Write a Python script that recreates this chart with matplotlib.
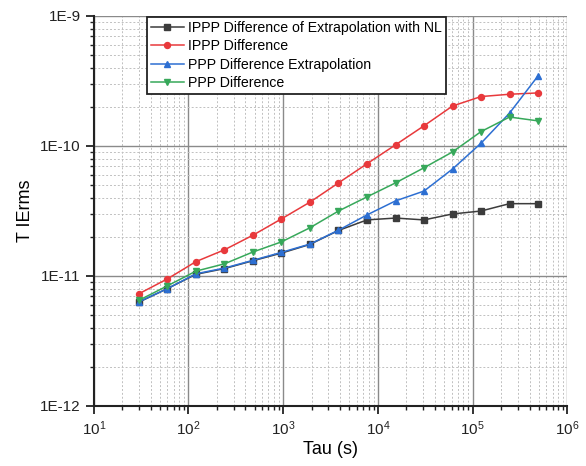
import matplotlib
matplotlib.use("Agg")
import matplotlib.pyplot as plt
from matplotlib.ticker import LogLocator, FixedLocator, FixedFormatter, NullFormatter

plt.rcParams['font.family'] = ['Liberation Sans', 'DejaVu Sans']

tau = [30, 60, 120, 240, 480, 960, 1920, 3840, 7680, 15360, 30720, 61440, 122880, 245760, 491520]

ippp_extrap_nl = [6.3e-12, 8.0e-12, 1.03e-11, 1.14e-11, 1.31e-11, 1.5e-11, 1.75e-11, 2.24e-11,
                  2.7e-11, 2.79e-11, 2.7e-11, 3.0e-11, 3.16e-11, 3.6e-11, 3.6e-11]
ippp_diff = [7.3e-12, 9.5e-12, 1.29e-11, 1.59e-11, 2.06e-11, 2.75e-11, 3.7e-11, 5.2e-11,
             7.3e-11, 1.02e-10, 1.43e-10, 2.03e-10, 2.4e-10, 2.5e-10, 2.56e-10]
ppp_extrap = [6.33e-12, 8.0e-12, 1.04e-11, 1.15e-11, 1.32e-11, 1.52e-11, 1.76e-11, 2.25e-11,
              2.95e-11, 3.78e-11, 4.5e-11, 6.65e-11, 1.05e-10, 1.79e-10, 3.46e-10]
ppp_diff = [6.5e-12, 8.4e-12, 1.09e-11, 1.24e-11, 1.53e-11, 1.83e-11, 2.35e-11, 3.16e-11,
            4.06e-11, 5.2e-11, 6.8e-11, 9.0e-11, 1.29e-10, 1.67e-10, 1.56e-10]

labels = ["IPPP Difference of Extrapolation with NL", "IPPP Difference",
          "PPP Difference Extrapolation", "PPP Difference"]
y_ticks = [1e-12, 1e-11, 1e-10, 1e-9]
y_ticklabels = ["1E-12", "1E-11", "1E-10", "1E-9"]

fig = plt.figure(figsize=(5.86, 4.66), dpi=100)
ax = fig.add_axes([0.160, 0.1288, 0.808, 0.8369])

ax.plot(tau, ippp_extrap_nl, color='#3c3c3c', marker='s', ms=3.8, lw=1.1, label=labels[0])
ax.plot(tau, ippp_diff, color='#e8393c', marker='o', ms=4.3, lw=1.1, label=labels[1])
ax.plot(tau, ppp_extrap, color='#2d6fd2', marker='^', ms=4.8, lw=1.1, label=labels[2])
ax.plot(tau, ppp_diff, color='#37a85a', marker='v', ms=4.8, lw=1.1, label=labels[3])

ax.set_xscale('log')
ax.set_yscale('log')
ax.set_xlim(10, 1e6)
ax.set_ylim(1e-12, 1e-9)

ax.yaxis.set_major_locator(FixedLocator(y_ticks))
ax.yaxis.set_major_formatter(FixedFormatter(y_ticklabels))
ax.yaxis.set_minor_locator(LogLocator(base=10, subs=range(2, 10), numticks=20))
ax.yaxis.set_minor_formatter(NullFormatter())
ax.xaxis.set_major_locator(LogLocator(base=10, numticks=10))
ax.xaxis.set_minor_locator(LogLocator(base=10, subs=range(2, 10), numticks=20))
ax.xaxis.set_minor_formatter(NullFormatter())

ax.grid(True, which='major', color='#8a8a8a', lw=1.0, ls='-')
ax.grid(True, which='minor', color='#c0c0c0', lw=0.7, ls=(0, (2, 2)))
ax.set_axisbelow(True)

for s in ['top', 'right']:
    ax.spines[s].set_visible(False)
for s in ['left', 'bottom']:
    ax.spines[s].set_linewidth(1.5)
    ax.spines[s].set_color('#222222')

ax.tick_params(which='major', direction='out', length=6, width=1.3, labelsize=11, colors='#222222')
ax.tick_params(which='minor', direction='out', length=3, width=1.0, colors='#222222')

ax.set_xlabel('Tau (s)', fontsize=13, labelpad=2)
ax.set_ylabel('T IErms', fontsize=13, labelpad=4)

leg = ax.legend(loc='upper left', bbox_to_anchor=(0.112, 0.998), fontsize=10.2, frameon=True,
                fancybox=False, edgecolor='#222222', framealpha=1, borderpad=0.3,
                labelspacing=0.3, handlelength=2.3, handletextpad=0.3, borderaxespad=0.0)
leg.get_frame().set_linewidth(1.3)

fig.savefig('out.png', dpi=100)
